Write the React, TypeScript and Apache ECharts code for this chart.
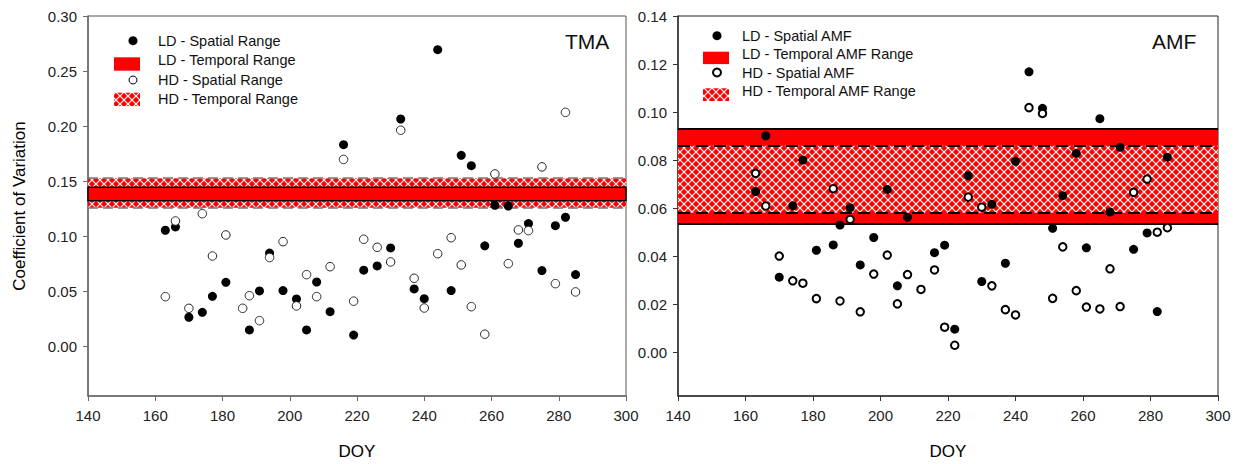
import React, { useEffect, useRef } from "react";
import * as echarts from "echarts";

// ---------- DATA ----------
const TMA_LD_DOY = [163, 166, 170, 174, 177, 181, 188, 191, 194, 198, 202, 205, 208, 212, 216, 219, 222, 226, 230, 233, 237, 240, 244, 248, 251, 254, 258, 261, 265, 268, 271, 275, 279, 282, 285];
const TMA_LD_CV = [0.1055, 0.1085, 0.0265, 0.031, 0.0455, 0.0582, 0.015, 0.0504, 0.0848, 0.0507, 0.0431, 0.015, 0.0585, 0.0316, 0.1832, 0.0103, 0.0692, 0.0731, 0.0894, 0.2065, 0.0522, 0.0434, 0.2694, 0.0507, 0.1735, 0.1641, 0.0913, 0.1282, 0.1275, 0.0937, 0.1115, 0.0689, 0.1096, 0.1173, 0.0652];

const TMA_HD_DOY = [163, 166, 170, 174, 177, 181, 186, 188, 191, 194, 198, 202, 205, 208, 212, 216, 219, 222, 226, 230, 233, 237, 240, 244, 248, 251, 254, 258, 261, 265, 268, 271, 275, 279, 282, 285];
const TMA_HD_CV = [0.0452, 0.1139, 0.0346, 0.1205, 0.0821, 0.1012, 0.0346, 0.0461, 0.0234, 0.0807, 0.0951, 0.0368, 0.0652, 0.0452, 0.0724, 0.1698, 0.0411, 0.0973, 0.09, 0.0767, 0.1963, 0.0619, 0.0349, 0.0842, 0.0987, 0.074, 0.0361, 0.0111, 0.1566, 0.0752, 0.1058, 0.1052, 0.163, 0.057, 0.2125, 0.0495];

const TMA_LD_TEMPORAL = [0.1323, 0.1445];
const TMA_HD_TEMPORAL = [0.126, 0.1527];

const AMF_LD_DOY = [163, 166, 170, 174, 177, 181, 186, 188, 191, 194, 198, 202, 205, 208, 216, 219, 222, 226, 230, 233, 237, 240, 244, 248, 251, 254, 258, 261, 265, 268, 271, 275, 279, 282, 285];
const AMF_LD_CV = [0.067, 0.0902, 0.0314, 0.0611, 0.0801, 0.0426, 0.0448, 0.0531, 0.0603, 0.0365, 0.0479, 0.0679, 0.0278, 0.0563, 0.0416, 0.0447, 0.0098, 0.0736, 0.0296, 0.0617, 0.0372, 0.0796, 0.1168, 0.1016, 0.0517, 0.0653, 0.0829, 0.0436, 0.0973, 0.0585, 0.0854, 0.043, 0.0498, 0.0171, 0.0813];

const AMF_HD_DOY = [163, 166, 170, 174, 177, 181, 186, 188, 191, 194, 198, 202, 205, 208, 212, 216, 219, 222, 226, 230, 233, 237, 240, 244, 248, 251, 254, 258, 261, 265, 268, 271, 275, 279, 282, 285];
const AMF_HD_CV = [0.0746, 0.061, 0.0402, 0.0299, 0.0289, 0.0225, 0.0682, 0.0215, 0.0554, 0.017, 0.0327, 0.0406, 0.0203, 0.0325, 0.0263, 0.0344, 0.0106, 0.0031, 0.0647, 0.0605, 0.0278, 0.0179, 0.0157, 0.1019, 0.0995, 0.0226, 0.044, 0.0258, 0.019, 0.0182, 0.0349, 0.0192, 0.0667, 0.0722, 0.0501, 0.052];

const AMF_LD_TEMPORAL = [0.0536, 0.0933];
const AMF_HD_TEMPORAL = [0.0582, 0.0861];

const TMA_Y_TICKS = [0, 0.05, 0.1, 0.15, 0.2, 0.25, 0.3];
const AMF_Y_TICKS = [0, 0.02, 0.04, 0.06, 0.08, 0.1, 0.12, 0.14];

const TMA_LEGEND = ["LD - Spatial Range", "LD - Temporal Range", "HD - Spatial Range", "HD - Temporal Range"];
const AMF_LEGEND = ["LD - Spatial AMF", "LD - Temporal AMF Range", "HD - Spatial AMF", "HD - Temporal AMF Range"];

const FONT = "'Liberation Sans', Arial, sans-serif";

function zip(xs: number[], ys: number[]) {
  return xs.map((x, i) => [x, ys[i]]);
}

function makeHatch() {
  const s = 8;
  const c = document.createElement("canvas");
  c.width = s;
  c.height = s;
  const ctx = c.getContext("2d")!;
  ctx.fillStyle = "#ff0000";
  ctx.fillRect(0, 0, s, s);
  ctx.strokeStyle = "#ffffff";
  ctx.lineWidth = 1.2;
  ctx.beginPath();
  ctx.moveTo(0, 0);
  ctx.lineTo(s, s);
  ctx.moveTo(s, 0);
  ctx.lineTo(0, s);
  ctx.stroke();
  return { image: c.toDataURL(), repeat: "repeat", imageWidth: s, imageHeight: s } as any;
}

function xAxisCfg(gridIndex: number, color: string) {
  return {
    gridIndex,
    type: "value",
    min: 140,
    max: 300,
    interval: 20,
    axisLine: { show: true, onZero: false, lineStyle: { color, width: 1.5 } },
    axisTick: { show: true, inside: false, length: 5, lineStyle: { color, width: 1 } },
    axisLabel: { margin: 12, fontSize: 15, color: "#222", fontFamily: FONT },
    splitLine: { show: false },
    name: "DOY",
    nameLocation: "middle",
    nameGap: 47,
    nameTextStyle: { fontSize: 17, color: "#000", fontFamily: FONT },
  };
}

function yAxisCfg(gridIndex: number, min: number, max: number, ticks: number[], color: string, name: string) {
  return {
    gridIndex,
    type: "value",
    min,
    max,
    axisLine: { show: true, onZero: false, lineStyle: { color, width: 1.5 } },
    axisTick: { show: true, inside: false, length: 5, customValues: ticks, lineStyle: { color, width: 1 } },
    axisLabel: {
      customValues: ticks,
      formatter: (v: number) => v.toFixed(2),
      margin: 11,
      fontSize: 15,
      color: "#222",
      fontFamily: FONT,
    },
    splitLine: { show: false },
    name,
    nameLocation: "middle",
    nameRotate: 90,
    nameGap: 60,
    nameTextStyle: { fontSize: 17, color: "#000", fontFamily: FONT },
  };
}

function legendGraphics(
  x0: number,
  circleX: number,
  rectX: number,
  rectW: number,
  rows: number[],
  rects: number[][],
  labels: string[],
  hatch: any,
  openWidth: number
) {
  const els: any[] = [];
  els.push({ type: "circle", shape: { cx: circleX, cy: rows[0], r: 4.5 }, style: { fill: "#000" }, silent: true });
  els.push({ type: "rect", shape: { x: rectX, y: rects[0][0], width: rectW, height: rects[0][1] }, style: { fill: "#ff0000" }, silent: true });
  els.push({ type: "circle", shape: { cx: circleX, cy: rows[2], r: 4 }, style: { fill: "#fff", stroke: "#000", lineWidth: openWidth }, silent: true });
  els.push({ type: "rect", shape: { x: rectX, y: rects[1][0], width: rectW, height: rects[1][1] }, style: { fill: hatch }, silent: true });
  labels.forEach((t, i) => {
    els.push({
      type: "text",
      x: x0,
      y: rows[i],
      silent: true,
      style: { text: t, fontSize: 14.5, fontFamily: FONT, fill: "#111", align: "left", verticalAlign: "middle" },
    });
  });
  return els;
}

export default function App() {
  const ref = useRef<HTMLDivElement>(null);

  useEffect(() => {
    if (!ref.current) return;
    const chart = echarts.init(ref.current, undefined, { renderer: "svg" });
    const hatch = makeHatch();

    const option: any = {
      animation: false,
      backgroundColor: "#ffffff",
      grid: [
        { left: 88, right: 613, top: 16, bottom: 68, show: true, borderColor: "#555", borderWidth: 1, backgroundColor: "transparent", outerBoundsMode: "none" },
        { left: 678, right: 21, top: 16, bottom: 68, show: true, borderColor: "#222", borderWidth: 1, backgroundColor: "transparent", outerBoundsMode: "none" },
      ],
      xAxis: [xAxisCfg(0, "#6a6a6a"), xAxisCfg(1, "#333")],
      yAxis: [
        yAxisCfg(0, -0.045, 0.3, TMA_Y_TICKS, "#6a6a6a", "Coefficient of Variation"),
        yAxisCfg(1, -0.018, 0.14, AMF_Y_TICKS, "#333", ""),
      ],
      series: [
        {
          name: "TMA LD",
          type: "scatter",
          xAxisIndex: 0,
          yAxisIndex: 0,
          z: 3,
          symbol: "circle",
          symbolSize: 9,
          itemStyle: { color: "#000", opacity: 1 },
          data: zip(TMA_LD_DOY, TMA_LD_CV),
          markArea: {
            silent: true,
            z: 1,
            label: { show: false },
            data: [
              [{ yAxis: TMA_HD_TEMPORAL[0], itemStyle: { color: hatch, borderWidth: 0 } }, { yAxis: TMA_HD_TEMPORAL[1] }],
              [{ yAxis: TMA_LD_TEMPORAL[0], itemStyle: { color: "#ff0000", borderColor: "#000", borderWidth: 1.5 } }, { yAxis: TMA_LD_TEMPORAL[1] }],
            ],
          },
          markLine: {
            silent: true,
            z: 2,
            precision: 6,
            symbol: "none",
            label: { show: false },
            lineStyle: { color: "#777", type: [10, 5], width: 1.5 },
            data: [{ yAxis: TMA_HD_TEMPORAL[0] }, { yAxis: TMA_HD_TEMPORAL[1] }],
          },
        },
        {
          name: "TMA HD",
          type: "scatter",
          xAxisIndex: 0,
          yAxisIndex: 0,
          z: 4,
          symbol: "circle",
          symbolSize: 8.5,
          itemStyle: { color: "#fff", borderColor: "#222", borderWidth: 1, opacity: 1 },
          data: zip(TMA_HD_DOY, TMA_HD_CV),
        },
        {
          name: "AMF LD",
          type: "scatter",
          xAxisIndex: 1,
          yAxisIndex: 1,
          z: 3,
          symbol: "circle",
          symbolSize: 9,
          itemStyle: { color: "#000", opacity: 1 },
          data: zip(AMF_LD_DOY, AMF_LD_CV),
          markArea: {
            silent: true,
            z: 1,
            label: { show: false },
            data: [
              [{ yAxis: AMF_LD_TEMPORAL[0], itemStyle: { color: "#ff0000", borderWidth: 0 } }, { yAxis: AMF_LD_TEMPORAL[1] }],
              [{ yAxis: AMF_HD_TEMPORAL[0], itemStyle: { color: hatch, borderWidth: 0 } }, { yAxis: AMF_HD_TEMPORAL[1] }],
            ],
          },
          markLine: {
            silent: true,
            z: 2,
            precision: 6,
            symbol: "none",
            label: { show: false },
            data: [
              { yAxis: AMF_LD_TEMPORAL[0], lineStyle: { color: "#000", type: "solid", width: 2 } },
              { yAxis: AMF_LD_TEMPORAL[1], lineStyle: { color: "#000", type: "solid", width: 2 } },
              { yAxis: AMF_HD_TEMPORAL[0], lineStyle: { color: "#000", type: [12, 6], width: 2 } },
              { yAxis: AMF_HD_TEMPORAL[1], lineStyle: { color: "#000", type: [12, 6], width: 2 } },
            ],
          },
        },
        {
          name: "AMF HD",
          type: "scatter",
          xAxisIndex: 1,
          yAxisIndex: 1,
          z: 4,
          symbol: "circle",
          symbolSize: 7.5,
          itemStyle: { color: "#fff", borderColor: "#000", borderWidth: 2, opacity: 1 },
          data: zip(AMF_HD_DOY, AMF_HD_CV),
        },
      ],
      graphic: [
        ...legendGraphics(158, 133, 114, 26, [40.7, 60, 80, 99], [[57.3, 13.4], [92.7, 13.4]], TMA_LEGEND, hatch, 1),
        ...legendGraphics(742, 717, 703, 26, [35.7, 54.3, 72.5, 90.7], [[51.7, 12.4], [88.3, 12.7]], AMF_LEGEND, hatch, 2),
        {
          type: "text",
          x: 565,
          y: 41,
          silent: true,
          style: { text: "TMA", fontSize: 21, fontFamily: FONT, fill: "#111", align: "left", verticalAlign: "middle" },
        },
        {
          type: "text",
          x: 1152,
          y: 41,
          silent: true,
          style: { text: "AMF", fontSize: 21, fontFamily: FONT, fill: "#111", align: "left", verticalAlign: "middle" },
        },
      ],
    };

    chart.setOption(option);
    return () => {
      chart.dispose();
    };
  }, []);

  return (
    <div
      ref={ref}
      style={{ position: "absolute", left: 0, top: 0, width: 1239, height: 464, background: "#fff" }}
    />
  );
}
